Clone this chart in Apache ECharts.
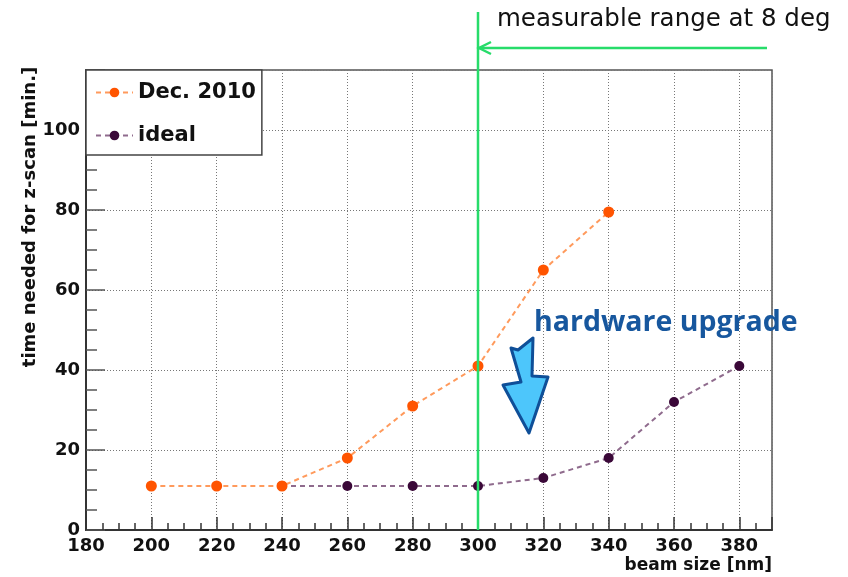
<!DOCTYPE html>
<html>
<head>
<meta charset="utf-8">
<script src="https://cdn.jsdelivr.net/npm/echarts@6/dist/echarts.min.js"></script>
<style>
  html, body { margin: 0; padding: 0; background: #fff; }
  #chart { width: 848px; height: 577px; }
</style>
</head>
<body>
<div id="chart"></div>
<script>
// beam size [nm]
const beamDec = [200, 220, 240, 260, 280, 300, 320, 340];
const timeDec = [11, 11, 11, 18, 31, 41, 65, 79.5];
const beamIdeal = [240, 260, 280, 300, 320, 340, 360, 380];
const timeIdeal = [11, 11, 11, 11, 13, 18, 32, 41];
const rangeLimit = 300; // measurable range at 8 deg

const font = "DejaVu Sans";
let myChart = echarts.init(document.getElementById("chart"));

let option = {
  animation: false,
  backgroundColor: "#fff",
  grid: {
    left: 86,
    top: 70,
    right: 76,
    bottom: 47,
    show: true,
    borderColor: "#555",
    borderWidth: 1.5,
  },
  legend: {
    left: 86,
    top: 70,
    orient: "vertical",
    data: ["Dec. 2010", "ideal"],
    backgroundColor: "#fff",
    borderColor: "#444",
    borderWidth: 1.5,
    padding: [12, 6, 9, 9],
    itemGap: 22,
    itemWidth: 37,
    itemHeight: 12,
    textStyle: { fontFamily: font, fontWeight: "bold", fontSize: 21, color: "#111" },
  },
  xAxis: {
    type: "value",
    min: 180,
    max: 390,
    interval: 20,
    axisLine: { lineStyle: { color: "#333", width: 2 } },
    axisTick: { inside: true, length: 13, lineStyle: { color: "#333", width: 1.5 } },
    minorTick: { show: true, splitNumber: 4, length: 7, lineStyle: { color: "#333", width: 1.5 } },
    axisLabel: {
      fontFamily: font, fontWeight: "bold", fontSize: 18, color: "#111", margin: 7,
      showMaxLabel: false,
      formatter: (v) => (v > 380 ? "" : v),
    },
    splitLine: { show: true, lineStyle: { color: "#777", type: [1, 2], width: 1 } },
    name: "beam size [nm]",
    nameLocation: "end",
    nameGap: 0,
    nameTextStyle: {
      fontFamily: font, fontWeight: "bold", fontSize: 17, color: "#111",
      align: "right", verticalAlign: "top", padding: [27, 0, 0, 0],
    },
  },
  yAxis: {
    type: "value",
    min: 0,
    max: 115,
    interval: 20,
    axisLine: { lineStyle: { color: "#333", width: 2 } },
    axisTick: { inside: true, length: 19, lineStyle: { color: "#555", width: 1.5 } },
    minorTick: { show: true, splitNumber: 4, length: 11, lineStyle: { color: "#555", width: 1.5 } },
    axisLabel: {
      fontFamily: font, fontWeight: "bold", fontSize: 18, color: "#111", margin: 6,
      showMaxLabel: false,
      formatter: (v) => (v > 100 ? "" : v),
    },
    splitLine: { show: true, lineStyle: { color: "#777", type: [1, 2], width: 1 } },
  },
  series: [
    {
      name: "ideal",
      type: "line",
      data: beamIdeal.map((b, i) => [b, timeIdeal[i]]),
      symbol: "circle",
      symbolSize: 10,
      itemStyle: { color: "#3a0838" },
      lineStyle: { color: "#8f6b8d", width: 2, type: [5, 4] },
      z: 3,
    },
    {
      name: "Dec. 2010",
      type: "line",
      data: beamDec.map((b, i) => [b, timeDec[i]]),
      symbol: "circle",
      symbolSize: 11,
      itemStyle: { color: "#ff5400" },
      lineStyle: { color: "#ff9a5c", width: 2, type: [5, 4] },
      z: 4,
    },
  ],
};
myChart.setOption(option);

// green limit line + arrow + annotations
const xLim = myChart.convertToPixel({ xAxisIndex: 0 }, rangeLimit);
const yBottom = myChart.convertToPixel({ yAxisIndex: 0 }, 0);
const green = "#27dc6a";
myChart.setOption({
  graphic: [
    {
      type: "line",
      z: 100,
      shape: { x1: xLim, y1: 12, x2: xLim, y2: yBottom },
      style: { stroke: green, lineWidth: 2.5 },
    },
    {
      type: "polyline",
      z: 100,
      shape: { points: [[767, 48], [xLim + 1, 48]] },
      style: { stroke: green, lineWidth: 2.5 },
    },
    {
      type: "polyline",
      z: 100,
      shape: { points: [[xLim + 13, 42], [xLim + 1, 48], [xLim + 13, 54]] },
      style: { stroke: green, lineWidth: 2.5, fill: null },
    },
    {
      type: "text",
      z: 100,
      x: 497,
      y: 20,
      style: {
        text: "measurable range at 8 deg",
        fontFamily: font,
        fontSize: 24.5,
        fill: "#111",
        verticalAlign: "middle",
      },
    },
    {
      type: "text",
      z: 100,
      x: 30,
      y: 217,
      rotation: Math.PI / 2,
      style: {
        text: "time needed for z-scan [min.]",
        fontFamily: font,
        fontWeight: "bold",
        fontSize: 18,
        fill: "#111",
        align: "center",
        verticalAlign: "middle",
      },
    },
    {
      type: "text",
      z: 100,
      x: 534,
      y: 323,
      style: {
        text: "hardware upgrade",
        fontFamily: "Open Sans",
        fontWeight: "bold",
        fontSize: 28.5,
        fill: "#17579e",
        verticalAlign: "middle",
      },
    },
    {
      type: "polygon",
      z: 100,
      shape: {
        points: [[511, 348], [518, 350], [533, 338], [532, 376], [548, 377], [529, 433], [503, 385], [521, 382]],
      },
      style: { fill: "#4dc6fb", stroke: "#0f4f98", lineWidth: 3, lineJoin: "round" },
    },
  ],
});
</script>
</body>
</html>
